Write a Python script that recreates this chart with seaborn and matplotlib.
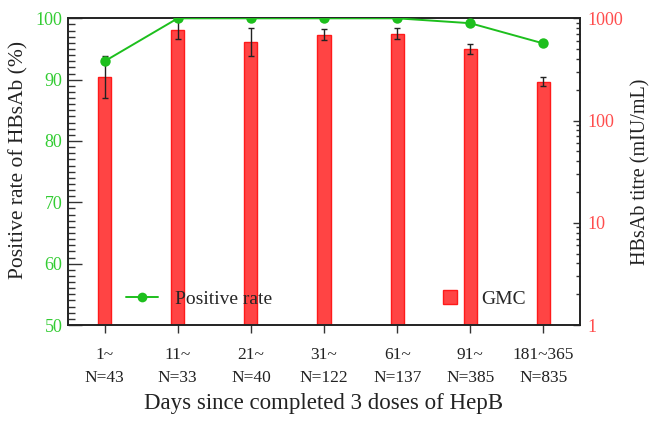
import numpy as np
import pandas as pd
import matplotlib
matplotlib.use("Agg")
import matplotlib.pyplot as plt
from matplotlib.ticker import MultipleLocator, LogLocator, NullFormatter
import seaborn as sns

# data
groups = ["1~\nN=43", "11~\nN=33", "21~\nN=40", "31~\nN=122", "61~\nN=137", "91~\nN=385", "181~365\nN=835"]
positive_rate = [93.0, 100.0, 100.0, 100.0, 100.0, 99.2, 95.9]
gmc = [265, 769, 586, 692, 703, 498, 238]
gmc_low = [165, 632, 431, 610, 628, 448, 216]
gmc_high = [428, 960, 809, 791, 808, 561, 267]

GREEN = "#1dbf1d"
GREEN_TXT = "#33cc33"
RED = "#ff4444"
RED_TXT = "#ff4d4d"

sns.set_theme(style="white")
plt.rcParams["font.family"] = ["Liberation Serif", "DejaVu Serif"]

df = pd.DataFrame({"group": groups, "rate": positive_rate, "gmc": gmc})

fig = plt.figure(figsize=(6.51, 4.21), dpi=100)
ax = fig.add_axes([0.1045, 0.228, 0.7865, 0.7285])
ax2 = ax.twinx()

# bars on log axis (right side)
sns.barplot(data=df, x="group", y="gmc", ax=ax, width=0.18, color=RED,
            edgecolor="#ff1a1a", linewidth=1.0, errorbar=None, saturation=1)
ax.set_yscale("log")
ax.set_ylim(1, 1000)
x = np.arange(len(groups))
yerr = [np.array(gmc) - np.array(gmc_low), np.array(gmc_high) - np.array(gmc)]
ax.errorbar(x, gmc, yerr=yerr, fmt="none", ecolor="#222222", elinewidth=1.0, capsize=2.5, capthick=1.0, zorder=5)
ax.set_xlim(-0.5, len(groups) - 0.5)
ax.set_xlabel("Days since completed 3 doses of HepB", fontsize=16.5, color="#222222", labelpad=5)
ax.tick_params(axis="x", which="major", direction="out", length=6, width=1, colors="#333333",
               labelcolor="#222222", labelsize=12.5, pad=10, bottom=True)
for lbl in ax.get_xticklabels():
    lbl.set_linespacing(1.55)

# line on the linear axis
sns.lineplot(x=x, y=positive_rate, ax=ax2, color=GREEN, marker="o", markersize=7.5,
             markeredgewidth=0, linewidth=1.4, zorder=6)
ax2.set_ylim(50, 100)

# put the log axis on the right and the percent axis on the left
ax.yaxis.tick_right()
ax.yaxis.set_label_position("right")
ax2.yaxis.tick_left()
ax2.yaxis.set_label_position("left")

ax.yaxis.set_minor_locator(LogLocator(base=10, subs=np.arange(2, 10), numticks=10))
ax.yaxis.set_minor_formatter(NullFormatter())
ax.set_yticks([1, 10, 100, 1000])
ax.set_yticklabels(["1", "10", "100", "1000"])
ax.tick_params(axis="y", which="major", direction="in", length=5, width=1, colors="#333333",
               labelcolor=RED_TXT, labelsize=13, pad=5, right=True, left=False,
               labelright=True, labelleft=False)
ax.tick_params(axis="y", which="minor", direction="in", length=3, width=1, colors="#333333",
               right=True, left=False)
ax.set_ylabel("HBsAb titre (mIU/mL)", fontsize=14.5, color="#222222", labelpad=6)

ax2.yaxis.set_major_locator(MultipleLocator(10))
ax2.yaxis.set_minor_locator(MultipleLocator(1))
ax2.tick_params(axis="y", which="major", direction="in", length=10, width=1, colors="#333333",
                labelcolor=GREEN_TXT, labelsize=13, pad=4, left=True, right=False,
                labelleft=True, labelright=False)
ax2.tick_params(axis="y", which="minor", direction="in", length=5, width=1, colors="#333333",
                left=True, right=False)
ax2.set_ylabel("Positive rate of HBsAb (%)", fontsize=15.5, color="#222222")
ax2.yaxis.set_label_coords(-0.077, 0.537)

for a in (ax, ax2):
    for s in a.spines.values():
        s.set_color("#222222")
        s.set_linewidth(1.2)

# legends
line_h = plt.Line2D([], [], color=GREEN, marker="o", markersize=7, markeredgewidth=0, linewidth=1.4)
bar_h = plt.Line2D([], [], color="none", marker="s", markersize=10, markerfacecolor=RED,
                   markeredgecolor="#ff1a1a", linestyle="none")
leg1 = ax2.legend([line_h], ["Positive rate"], loc="lower left", bbox_to_anchor=(0.08, 0.0),
                  frameon=False, fontsize=14, handlelength=1.6, handletextpad=0.9)
ax2.add_artist(leg1)
ax2.legend([bar_h], ["GMC"], loc="lower left", bbox_to_anchor=(0.69, 0.0),
           frameon=False, fontsize=14, handlelength=1.2, handletextpad=1.0)

fig.savefig("out.png", dpi=100)
